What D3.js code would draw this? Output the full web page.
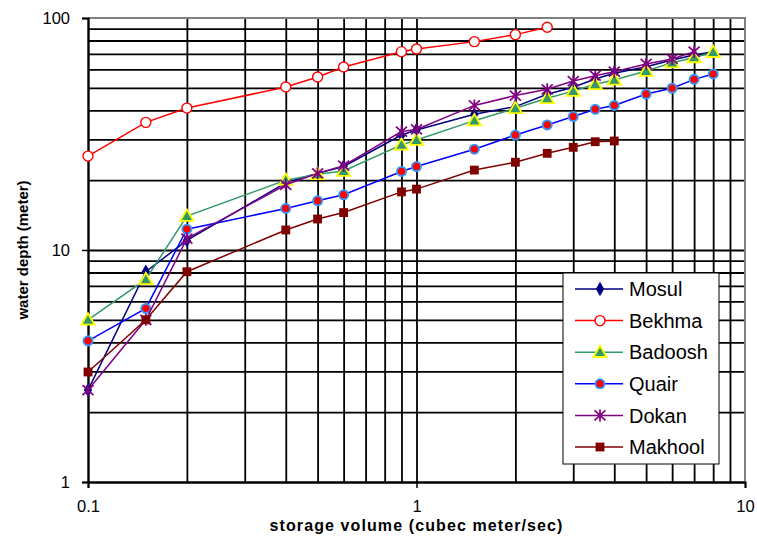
<!DOCTYPE html>
<html>
<head>
<meta charset="utf-8">
<script src="https://cdn.jsdelivr.net/npm/d3@7"></script>
<style>
body { margin: 0; background: #fff; }
svg { display: block; font-family: Arial, "Liberation Sans", sans-serif; }
</style>
</head>
<body>
<svg id="canvas" width="757" height="537"></svg>
<script>
// storage volume values shared by every station
let volumes = [0.1, 0.15, 0.2, 0.4, 0.5, 0.6, 0.9, 1, 1.5, 2, 2.5, 3, 3.5, 4, 5, 6, 7, 8]

// water depth (meter) per station
let mosul   = [2.49, 8.06, 11.0, 19.5, 21.4, 22.9, 31.3, 32.9, 38.5, 41.5, 46.9, 50.3, 54.6, 57.8, 61.7, 65.9, 69.3, 71.6]
let bekhma  = [25.4, 35.5, 40.9, 50.4, 55.7, 61.5, 71.6, 73.5, 79.1, 84.8, 91.2]
let badoosh = [5.0, 7.47, 14.0, 20.0, 21.2, 21.9, 28.4, 29.8, 36.1, 40.8, 45.1, 48.4, 51.8, 54.1, 59.1, 64.2, 67.6, 71.2]
let quair   = [4.06, 5.6, 12.3, 15.1, 16.3, 17.3, 21.8, 22.9, 27.2, 31.3, 34.6, 37.6, 40.4, 42.0, 47.0, 49.8, 54.4, 57.4]
let dokan   = [2.49, 5.0, 11.2, 19.1, 21.4, 23.1, 32.4, 33.1, 42.0, 46.3, 49.3, 53.5, 56.4, 58.7, 63.4, 66.6, 71.6]
let makhool = [2.98, 5.0, 8.06, 12.2, 13.6, 14.5, 17.8, 18.3, 22.1, 23.9, 26.1, 27.7, 29.3, 29.5]

let stationNames = ['Mosul', 'Bekhma', 'Badoosh', 'Quair', 'Dokan', 'Makhool']
let xMajorTicks = [0.1, 1, 10]
let yMajorTicks = [1, 10, 100]

let canvas = d3.select('#canvas')

let plotLeft = 88, plotRight = 745, plotTop = 18, plotBottom = 482

let xScale = d3.scaleLog().domain([0.1, 10]).range([plotLeft, plotRight])
let yScale = d3.scaleLog().domain([1, 100]).range([plotBottom, plotTop])

// marker drawing helpers
let asterisk = 'M0,-6V6M-5.5,-5L5.5,5M-5.5,5L5.5,-5'
let styles = {
    Mosul:   {line: '#000080', draw: (g) => g.append('path').attr('d', d3.symbol(d3.symbolDiamond, 60)()).attr('fill', '#000080')},
    Bekhma:  {line: '#ff0000', draw: (g) => g.append('circle').attr('r', 5).attr('fill', '#fff').attr('stroke', '#ff0000').attr('stroke-width', 1.4)},
    Badoosh: {line: '#339966', draw: (g) => g.append('path').attr('d', d3.symbol(d3.symbolTriangle, 75)()).attr('transform', 'translate(0,1)').attr('fill', '#339966').attr('stroke', '#ffff00').attr('stroke-width', 1.8)},
    Quair:   {line: '#0000ff', draw: (g) => g.append('circle').attr('r', 4.6).attr('fill', '#ff0000').attr('stroke', '#3399ff').attr('stroke-width', 1.8)},
    Dokan:   {line: '#800080', draw: (g) => g.append('path').attr('d', asterisk).attr('fill', 'none').attr('stroke', '#800080').attr('stroke-width', 1.7)},
    Makhool: {line: '#800000', draw: (g) => g.append('path').attr('d', d3.symbol(d3.symbolSquare, 78)()).attr('fill', '#800000')}
}

let seriesList = [mosul, bekhma, badoosh, quair, dokan, makhool].map((values, i) => {
    return {
        name: stationNames[i],
        points: values.map((v, j) => ({x: volumes[j], y: v}))
    }
})

// grid lines
let gridX = canvas.append('g')
    .attr('transform', `translate(0,${plotBottom})`)
    .call(d3.axisBottom(xScale).tickValues(xScale.ticks().filter(t => t < 10)).tickSize(-(plotBottom - plotTop)).tickFormat(''))
gridX.select('.domain').remove()
gridX.selectAll('line').attr('stroke', '#000').attr('stroke-width', 1.8)

let gridY = canvas.append('g')
    .attr('transform', `translate(${plotLeft},0)`)
    .call(d3.axisLeft(yScale).tickValues(yScale.ticks().filter(t => t < 100)).tickSize(-(plotRight - plotLeft)).tickFormat(''))
gridY.select('.domain').remove()
gridY.selectAll('line').attr('stroke', '#000').attr('stroke-width', 1.8)

// gray frame on top and right
canvas.append('path')
    .attr('d', `M${plotLeft},${plotTop}H${plotRight}V${plotBottom}`)
    .attr('fill', 'none')
    .attr('stroke', '#808080')
    .attr('stroke-width', 2)

// axes
let xAxis = canvas.append('g')
    .attr('transform', `translate(0,${plotBottom})`)
    .call(d3.axisBottom(xScale).tickValues(xMajorTicks).tickSize(6).tickPadding(12).tickFormat(d => d))
let yAxis = canvas.append('g')
    .attr('transform', `translate(${plotLeft},0)`)
    .call(d3.axisLeft(yScale).tickValues(yMajorTicks).tickSize(6).tickPadding(12).tickFormat(d => d))

;[xAxis, yAxis].forEach(ax => {
    ax.attr('font-family', null).attr('font-size', null)
    ax.select('.domain').attr('stroke', '#000').attr('stroke-width', 2)
    ax.selectAll('.tick line').attr('stroke', '#000').attr('stroke-width', 1.5)
    ax.selectAll('.tick text').attr('fill', '#000').style('font-size', '16.5px')
})

// lines and markers
let lineGen = d3.line().x(p => xScale(p.x)).y(p => yScale(p.y))

seriesList.forEach(s => {
    let st = styles[s.name]
    let g = canvas.append('g')
    g.append('path')
        .attr('d', lineGen(s.points))
        .attr('fill', 'none')
        .attr('stroke', st.line)
        .attr('stroke-width', 1.5)
    g.selectAll('g.marker')
        .data(s.points)
        .enter()
        .append('g')
        .attr('class', 'marker')
        .attr('transform', p => `translate(${xScale(p.x)},${yScale(p.y)})`)
        .each(function () { st.draw(d3.select(this)) })
})

// legend
let legend = canvas.append('g')
legend.append('rect')
    .attr('x', 563).attr('y', 273)
    .attr('width', 156).attr('height', 191)
    .attr('fill', '#fff')
    .attr('stroke', '#000')
    .attr('stroke-width', 1)

stationNames.forEach((name, i) => {
    let row = legend.append('g').attr('transform', `translate(0,${289 + i * 31.6})`)
    row.append('line')
        .attr('x1', 575).attr('x2', 623)
        .attr('stroke', styles[name].line)
        .attr('stroke-width', 1.5)
    styles[name].draw(row.append('g').attr('transform', 'translate(600,0)'))
    row.append('text')
        .attr('x', 629)
        .attr('dy', '0.36em')
        .style('font-size', '20px')
        .text(name)
})

// axis titles
canvas.append('text')
    .attr('x', (plotLeft + plotRight) / 2)
    .attr('y', 531)
    .attr('text-anchor', 'middle')
    .style('font-size', '16px')
    .style('font-weight', 'bold')
    .style('letter-spacing', '1.1px')
    .text('storage volume (cubec meter/sec)')

canvas.append('text')
    .attr('transform', `translate(28,${(plotTop + plotBottom) / 2}) rotate(-90)`)
    .attr('text-anchor', 'middle')
    .style('font-size', '15px')
    .style('font-weight', 'bold')
    .text('water depth (meter)')
</script>
</body>
</html>
